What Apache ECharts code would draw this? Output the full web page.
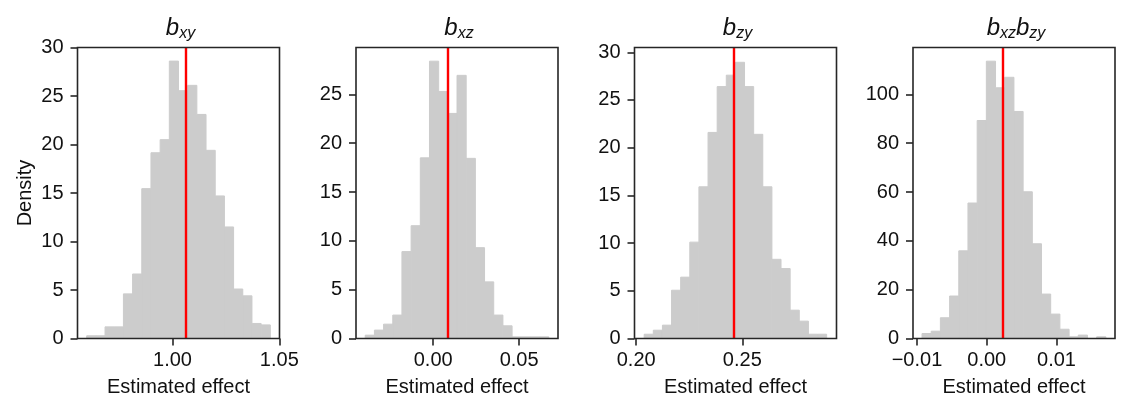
<!DOCTYPE html>
<html><head><meta charset="utf-8">
<script src="https://cdn.jsdelivr.net/npm/echarts@6/dist/echarts.min.js"></script>
<style>html,body{margin:0;padding:0;background:#fff}#c{width:1132px;height:413px}</style>
</head><body><div id="c"></div>
<script>
// ---- data ----
const titles = [['b','xy'],['b','xz'],['b','zy'],['b','xz','b','zy']];
// histogram: first bin edge, bin width, densities (20 bins)
const bxyStart = 0.9598, bxyWidth = 0.0043;
const bxyDensity = [0.28,0.28,1.2,1.2,4.6,6.65,15.45,19.15,20.5,28.6,25.55,26.1,23.1,19.4,14.7,11.5,5.1,4.4,1.55,1.4];
const bxzStart = -0.03953, bxzWidth = 0.005339;
const bxzDensity = [0.34,0.86,1.47,2.4,8.9,11.55,18.5,28.4,25.3,23.05,26.95,18.45,9.3,5.8,2.4,1.3,0.17,0.17,0.17,0.17];
const bzyStart = 0.20376, bzyWidth = 0.0043;
const bzyDensity = [0.45,0.87,1.4,5.06,6.43,10.1,15.9,21.6,26.4,27.6,28.95,26.4,21.4,15.9,8.3,7.33,2.97,1.82,0.45,0.45];
const prodStart = -0.00928, prodWidth = 0.0013175;
const prodDensity = [2.05,3.0,8.5,17.4,35.9,55.5,89.3,113.6,102.7,107,93,60.1,38.8,18.2,10,3.8,0.7,1.4,0,0.7];
// true / reference values (red lines)
const refValues = [1.0061, 0.0087, 0.24595, 0.00224];
// axis ranges and ticks
const xRanges = [[0.9555,1.0501],[-0.0449,0.0726],[0.1992,0.2944],[-0.01057,0.01838]];
const yMax = [30, 29.8, 30.5, 119.2];
const xTicks = [[1.00,1.05],[0.00,0.05],[0.20,0.25],[-0.01,0.00,0.01]];
const yTicks = [[0,5,10,15,20,25,30],[0,5,10,15,20,25],[0,5,10,15,20,25,30],[0,20,40,60,80,100]];

const hists = [
  [bxyStart,bxyWidth,bxyDensity],
  [bxzStart,bxzWidth,bxzDensity],
  [bzyStart,bzyWidth,bzyDensity],
  [prodStart,prodWidth,prodDensity]
];

// ---- chart ----
const FONT = '"Liberation Sans", Arial, sans-serif';
const lefts = [77.5, 356, 634.5, 913];
const W = 202, TOP = 47.5, H = 291;
const INK = '#111111';
const grid = [], xAxis = [], yAxis = [], series = [], title = [];
const fmtX = v => { const s = Math.abs(v).toFixed(2); return v < -1e-12 ? '\u2212' + s : s; };

for (let i = 0; i < 4; i++) {
  grid.push({left: lefts[i], top: TOP, width: W, height: H, show: true,
    borderColor: '#262626', borderWidth: 1.6, backgroundColor: 'transparent', z: 10});
  xAxis.push({type: 'value', gridIndex: i, min: xRanges[i][0], max: xRanges[i][1],
    splitLine: {show: false}, axisLine: {show: false, onZero: false},
    axisTick: {show: true, length: 7, lineStyle: {color: '#262626', width: 1.6}, customValues: xTicks[i]},
    axisLabel: {customValues: xTicks[i], formatter: fmtX, color: INK, fontSize: 20, fontFamily: FONT, margin: 12},
    name: 'Estimated effect', nameLocation: 'middle', nameGap: 39,
    nameTextStyle: {fontSize: 20, color: INK, fontFamily: FONT}});
  yAxis.push({type: 'value', gridIndex: i, min: 0, max: yMax[i],
    splitLine: {show: false}, axisLine: {show: false, onZero: false},
    axisTick: {show: true, length: 7, lineStyle: {color: '#262626', width: 1.6}, customValues: yTicks[i]},
    axisLabel: {customValues: yTicks[i], color: INK, fontSize: 20, fontFamily: FONT, margin: 14},
    name: i === 0 ? 'Density' : '', nameLocation: 'middle', nameGap: 42,
    nameTextStyle: {fontSize: 20, color: INK, fontFamily: FONT}});
  const [st, wd, dens] = hists[i];
  const data = dens.map((d, k) => [st + k * wd, st + (k + 1) * wd, d]);
  series.push({type: 'custom', xAxisIndex: i, yAxisIndex: i, data: data,
    encode: {x: [0, 1], y: 2}, silent: true,
    renderItem: (params, api) => {
      const p0 = api.coord([api.value(0), 0]);
      const p1 = api.coord([api.value(1), api.value(2)]);
      return {type: 'rect', shape: {x: p0[0], y: p1[1], width: p1[0] - p0[0], height: p0[1] - p1[1]},
        style: {fill: '#cccccc', stroke: '#cccccc', lineWidth: 1}};
    }});
  series.push({type: 'line', xAxisIndex: i, yAxisIndex: i, data: [], silent: true, z: 5,
    markLine: {symbol: ['none','none'], silent: true, precision: 6, label: {show: false},
      lineStyle: {color: '#ff0000', width: 2.4, type: 'solid'}, animation: false,
      emphasis: {disabled: true},
      data: [{xAxis: refValues[i]}]}});
  const t = titles[i];
  let txt = '';
  for (let k = 0; k < t.length; k += 2) txt += '{b|' + t[k] + '}{s|' + t[k+1] + '}';
  title.push({text: txt, left: lefts[i] + W / 2 - 3, top: 10, textAlign: 'center',
    textStyle: {fontWeight: 'normal', rich: {
      b: {fontSize: 24, fontStyle: 'italic', fontWeight: 'normal', fontFamily: FONT, color: INK},
      s: {fontSize: 16, fontStyle: 'italic', fontWeight: 'normal', fontFamily: FONT, color: INK, padding: [11,0,0,0]}
    }}});
}

const chart = echarts.init(document.getElementById('c'), null, {renderer: 'canvas'});
chart.setOption({animation: false, title, grid, xAxis, yAxis, series});
</script></body></html>
